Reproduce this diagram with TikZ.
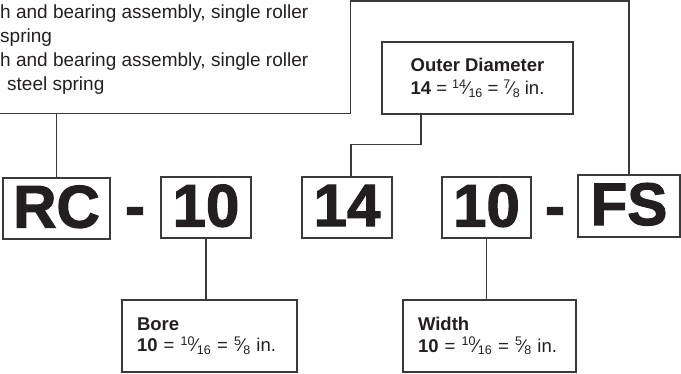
\documentclass[tikz,border=0pt]{standalone}
\usepackage{fontspec}
\setmainfont{Liberation Sans}
\newfontfamily\codefont{Liberation Sans}[BoldFeatures={FakeBold=2}]
\definecolor{ink}{HTML}{231F20}
\definecolor{rulec}{HTML}{3A3A3A}
% built-up fraction: raised numerator, fraction slash, lowered denominator
\newcommand\frc[2]{\raisebox{0.36em}{\fontsize{12.5}{12.5}\selectfont #1}\kern-0.02em\symbol{"2044}\kern-0.02em\raisebox{-0.14em}{\fontsize{12.5}{12.5}\selectfont #2}}
\begin{document}
\begin{tikzpicture}[x=1pt,y=-1pt,
  codebox/.style={draw=rulec, line width=1.2pt, inner sep=0pt, text=ink,
    text depth=4pt, font=\codefont\bfseries\fontsize{60}{60}\selectfont},
  dashmark/.style={inner sep=0pt, text=ink, anchor=base,
    font=\codefont\bfseries\fontsize{60}{60}\selectfont},
  infobox/.style={draw=rulec, line width=1.2pt, fill=white, text=ink,
    font=\fontsize{18.5}{21.5}\selectfont, minimum height=72pt,
    inner xsep=15pt, inner ysep=0pt},
  lead/.style={draw=rulec, line width=1.2pt}]
\useasboundingbox (0,0) rectangle (681,374);
\clip (0,0) rectangle (681,374);

% legend box, running off the top-left corner
\node[draw=rulec, line width=1.2pt, minimum width=400pt, minimum height=130pt,
      anchor=south east] (key) at (351,114) {};
% the base anchor of a multi-line node sits on its last line
\node[anchor=base west, inner sep=0pt, align=left, text=ink,
      font=\fontsize{19}{24.3}\selectfont] (keytext) at (0,91)
  {h and bearing assembly, single roller\\spring\\h and bearing assembly, single roller\\\hspace*{7pt}steel spring};

% part-number code boxes
\node[codebox, minimum width=107pt, minimum height=61pt] (rc) at (56.5,208.5) {RC};
\node[dashmark] (dash1) at (135,226.5) {-};
\node[codebox, minimum width=90pt, minimum height=61pt] (ten) at (206,207.5) {10};
\node[codebox, minimum width=90pt, minimum height=61pt] (fourteen) at (347,207.5) {14};
\node[codebox, minimum width=89pt, minimum height=61pt] (tenw) at (486.5,207.5) {10};
\node[dashmark] (dash2) at (555,226.5) {-};
\node[codebox, minimum width=102pt, minimum height=62pt] (fs) at (629,206) {FS};

% explanation boxes
\node[infobox, minimum width=191pt, align=center,
      font=\fontsize{18.5}{23}\selectfont] (od) at (477.5,78)
  {\textbf{Outer Diameter}\\\textbf{14} = \frc{14}{16} = \frc{7}{8} in.};
\node[infobox, text width=145pt, align=left] (bore) at (209.5,336)
  {\textbf{Bore}\\\textbf{10} = \frc{10}{16} = \frc{5}{8} in.};
\node[infobox, text width=143pt, align=left] (width) at (489.5,336)
  {\textbf{Width}\\\textbf{10} = \frc{10}{16} = \frc{5}{8} in.};

% leader lines
\coordinate (fscorner) at (629,1);
\coordinate (keyjoin) at (351,1);
\draw[lead] (key.south -| rc.north) -- (rc.north);
\draw[lead] (fs.north) -- (fscorner) -- (keyjoin);
\draw[lead] ([xshift=-56.5pt]od.south) -- ++(0,30) -| ([xshift=4pt]fourteen.north);
\draw[lead] (ten.south) -- (ten.south |- bore.north);
\draw[lead] (tenw.south) -- (tenw.south |- width.north);
\end{tikzpicture}
\end{document}
